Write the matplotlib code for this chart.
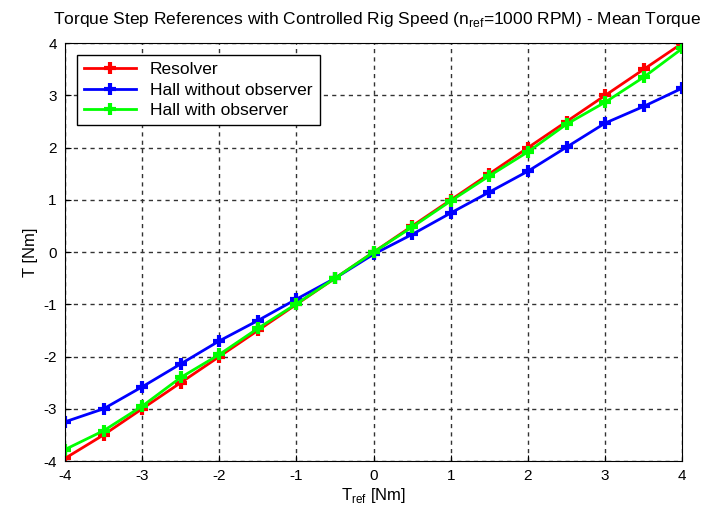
import matplotlib
matplotlib.use("Agg")
import matplotlib.pyplot as plt
import numpy as np

plt.rcParams['font.family'] = ['Liberation Sans', 'DejaVu Sans']
plt.rcParams['mathtext.fontset'] = 'custom'
plt.rcParams['mathtext.rm'] = 'Liberation Sans'
plt.rcParams['axes.unicode_minus'] = False

t_ref = [-4, -3.5, -3, -2.5, -2, -1.5, -1, -0.5, 0, 0.5, 1, 1.5, 2, 2.5, 3, 3.5, 4]
resolver = [-3.95, -3.5, -3.0, -2.5, -2.0, -1.5, -1.0, -0.5, 0.0, 0.5, 1.0, 1.5, 2.0, 2.5, 3.0, 3.5, 4.0]
hall_no_obs = [-3.25, -3.0, -2.58, -2.14, -1.7, -1.31, -0.9, -0.5, -0.04, 0.34, 0.75, 1.15, 1.55, 2.01, 2.47, 2.79, 3.14]
hall_obs = [-3.78, -3.42, -2.95, -2.4, -1.96, -1.46, -0.99, -0.5, 0.0, 0.48, 0.98, 1.46, 1.92, 2.45, 2.87, 3.35, 3.9]

fig = plt.figure(figsize=(7.12, 5.12), dpi=100)
ax = fig.add_axes([0.0913, 0.0996, 0.867, 0.816])

style = dict(linewidth=2, marker='+', markersize=8, markeredgewidth=3)
ax.plot(t_ref, resolver, color='#ff0000', label='Resolver', **style)
ax.plot(t_ref, hall_no_obs, color='#0000ff', label='Hall without observer', **style)
ax.plot(t_ref, hall_obs, color='#00ff00', label='Hall with observer', **style)

ax.set_xlim(-4, 4)
ax.set_ylim(-4, 4)
ax.set_xticks(np.arange(-4, 5, 1))
ax.set_yticks(np.arange(-4, 5, 1))
ax.grid(True, color='#333333', linestyle=(0, (3, 3)), linewidth=1)
ax.tick_params(direction='in', labelsize=11, length=4, pad=6)

ax.set_xlabel(r'T$_{\mathrm{ref}}$ [Nm]', fontsize=12, labelpad=2)
ax.set_ylabel('T [Nm]', fontsize=12)
ax.set_title(r'Torque Step References with Controlled Rig Speed (n$_{\mathrm{ref}}$=1000 RPM) - Mean Torque',
             fontsize=12.5, x=0.505, pad=14)

leg = ax.legend(loc='upper left', fontsize=12.5, fancybox=False, framealpha=1, edgecolor='black',
                handlelength=3, borderaxespad=0.7, labelspacing=0.3)
leg.get_frame().set_linewidth(1)

fig.savefig('out.png', dpi=100)
